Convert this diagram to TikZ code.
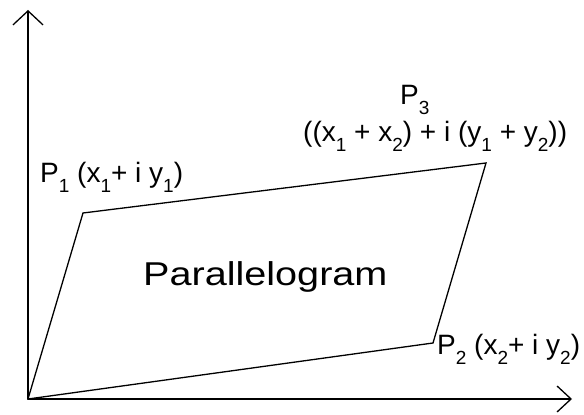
\documentclass[tikz,border=0pt]{standalone}
\usepackage{fontspec}
\setmainfont{Liberation Sans}
\newfontfamily\wideface[FakeStretch=1.2]{Liberation Sans}
\usetikzlibrary{arrows.meta, positioning, calc}

\newcommand\lowidx[1]{\raisebox{-10pt}{\fontsize{19}{19}\selectfont #1}}
\newcommand\pname[1]{P\lowidx{#1}}

\tikzset{
    ptlabel/.style={anchor=base west, inner sep=0pt, font=\fontsize{28}{30}\selectfont},
    side/.style={line width=1.3pt, line join=miter},
}

\begin{document}
\begin{tikzpicture}[x=1pt, y=1pt]
    \useasboundingbox (0,0) rectangle (584,415);

    \coordinate (o) at (28, 16);
    \coordinate (ytop) at (28, 405);
    \coordinate (xend) at (572, 16);
    \coordinate (p1) at (83, 202);
    \coordinate (p2) at (433, 72);
    \coordinate (p3) at (486, 252);

    \draw[line width=1.3pt, -{Straight Barb[length=14pt, width=30pt]}] (o) -- (ytop);
    \draw[line width=1.3pt, -{Straight Barb[length=14pt, width=26pt]}] (o) -- (xend);

    \draw[side] (o) -- (p1) -- (p3) -- (p2) -- cycle;

    \node[ptlabel] (lab1) at (40, 232) {\pname{1} (x\lowidx{1}+ i y\lowidx{1})};
    \node[ptlabel] (lab3) at (400, 310) {\pname{3}};
    \node[ptlabel] (lab3sum) at (303, 273) {((x\lowidx{1} + x\lowidx{2}) + i (y\lowidx{1} + y\lowidx{2}))};
    \node[ptlabel] (lab2) at (437, 60) {\pname{2} (x\lowidx{2}+ i y\lowidx{2})};

    \node[anchor=base west, inner sep=0pt, font=\wideface\fontsize{33}{35}\selectfont] (name) at (143, 129) {Parallelogram};
\end{tikzpicture}
\end{document}
